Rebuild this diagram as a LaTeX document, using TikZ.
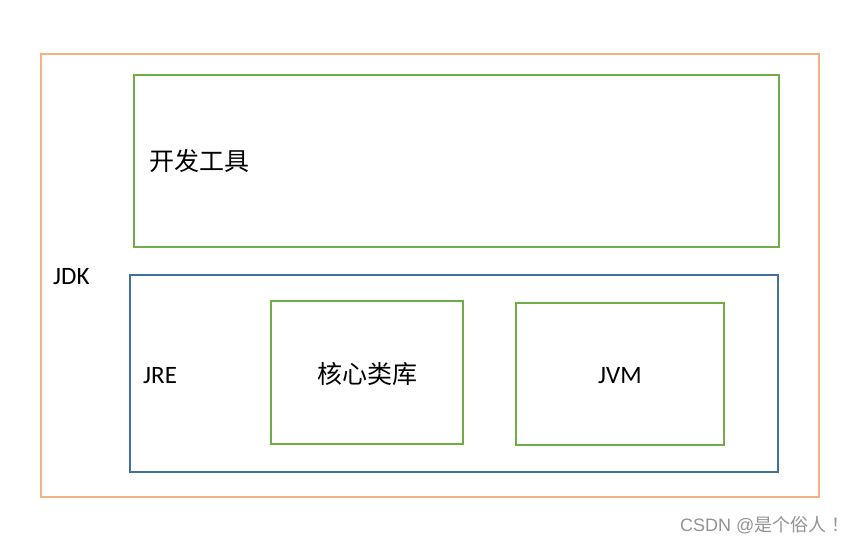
\documentclass[tikz,border=0pt]{standalone}
\usepackage{fontspec}
\setmainfont{Carlito}
\newfontfamily\cjk{Noto Sans CJK SC}
\newfontfamily\wm{Liberation Sans}
\definecolor{jdkc}{HTML}{F4B183}
\definecolor{grn}{HTML}{70AD47}
\definecolor{blu}{HTML}{41719C}
\begin{document}
\begin{tikzpicture}[x=1pt,y=-1pt,
  frame/.style={draw=#1,line width=2pt},
  lab/.style={font=\fontsize{25}{27}\selectfont,inner sep=0pt},
  zh/.style={font=\cjk\fontsize{25}{28}\selectfont,inner sep=0pt}]
\useasboundingbox[fill=white] (0,0) rectangle (858,545);
\draw[frame=jdkc] (41,54) rectangle (819,497);
\draw[frame=grn] (134,75) rectangle (779,247);
\draw[frame=blu] (130,275) rectangle (778,472);
\draw[frame=grn] (271,301) rectangle (463,444);
\draw[frame=grn] (516,303) rectangle (724,445);
\node[zh,anchor=west] (dev) at (149,161) {开发工具};
\node[lab,anchor=west] (jdk) at (53,277) {JDK};
\node[lab,anchor=west] (jre) at (143,376) {JRE};
\node[zh] (lib) at (367,374) {核心类库};
\node[lab] (jvm) at (620,376) {JVM};
\node[font=\fontsize{18}{20}\selectfont,text=gray!85,inner sep=0pt,anchor=west] (wmk) at (680,525) {\wm CSDN @\cjk 是个俗人\hspace{0.3em}！};
\end{tikzpicture}
\end{document}
